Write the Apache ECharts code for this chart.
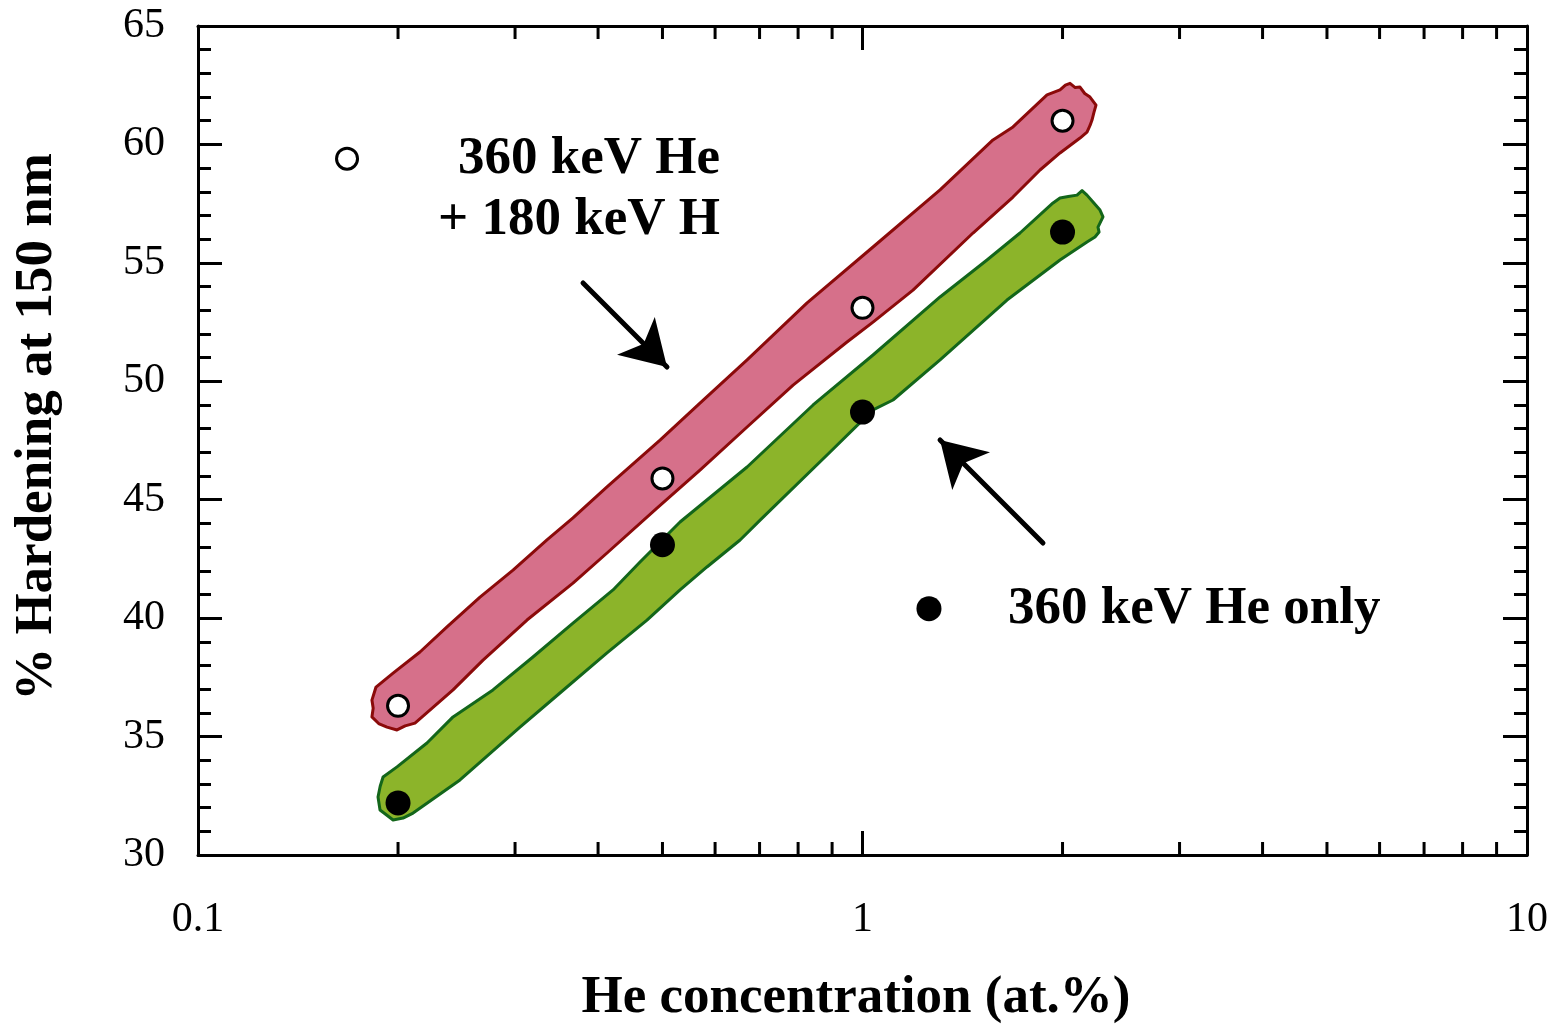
<!DOCTYPE html>
<html>
<head>
<meta charset="utf-8">
<script src="https://cdn.jsdelivr.net/npm/echarts@6/dist/echarts.min.js"></script>
<style>
html,body{margin:0;padding:0;background:#fff;}
#chart{width:1562px;height:1026px;}
</style>
</head>
<body>
<div id="chart"></div>
<script>
// ---- data ----
const heConc = [0.2, 0.5, 1, 2];
const hardeningHeH = [36.3, 45.9, 53.1, 61.0];
const hardeningHeOnly = [32.2, 43.1, 48.7, 56.3];
const legendMarkerHeH = [[0.1676, 59.4]];
const legendMarkerHeOnly = [[1.259, 40.4]];
const xMinorTicks = [0.2, 0.3, 0.4, 0.5, 0.6, 0.7, 0.8, 0.9, 2, 3, 4, 5, 6, 7, 8, 9];
const xMajorTicks = [0.1, 1, 10];
const labelHeH = ['360 keV He', '+ 180 keV H'];
const labelHeOnly = '360 keV He only';
const xTitle = 'He concentration (at.%)';
const yTitle = '% Hardening at 150 nm';

// band outlines (He concentration, % hardening)
const bandHeH = [
  [0.1853, 37.09], [0.1966, 37.68], [0.2158, 38.57], [0.2370, 39.63], [0.2657, 40.89],
  [0.2979, 42.03], [0.3351, 43.30], [0.3667, 44.23], [0.4126, 45.54], [0.4958, 47.52],
  [0.5694, 49.08], [0.6704, 50.90], [0.8253, 53.31], [1.0371, 55.67], [1.3083, 58.08],
  [1.5717, 60.19], [1.6845, 60.74], [1.8953, 62.09], [1.9826, 62.30], [2.0200, 62.50],
  [2.0525, 62.58], [2.0900, 62.40], [2.1248, 62.42], [2.1600, 62.15], [2.1997, 62.00],
  [2.2459, 61.66], [2.2300, 61.35], [2.2150, 61.03], [2.2000, 60.80], [2.1770, 60.52],
  [2.1248, 60.27], [1.9826, 59.64], [1.8499, 58.92], [1.6845, 57.78], [1.4665, 56.26],
  [1.1912, 53.85], [1.0371, 52.50], [0.9478, 51.66], [0.7862, 49.84], [0.6704, 48.07],
  [0.5694, 46.25], [0.4906, 44.65], [0.4126, 42.75], [0.3667, 41.48], [0.3127, 39.92],
  [0.2685, 38.23], [0.2420, 36.97], [0.2121, 35.57], [0.2050, 35.45], [0.1993, 35.28],
  [0.1925, 35.40], [0.1870, 35.55], [0.1827, 35.83], [0.1835, 36.20], [0.1827, 36.54]
];
const bandHeOnly = [
  [0.1899, 33.29], [0.1993, 33.72], [0.2211, 34.73], [0.2420, 35.83], [0.2779, 36.97],
  [0.3192, 38.36], [0.3667, 39.79], [0.4213, 41.19], [0.4626, 42.37], [0.5314, 44.06],
  [0.6704, 46.38], [0.8426, 49.00], [1.0371, 51.11], [1.3083, 53.56], [1.5394, 55.12],
  [1.7259, 56.26], [1.9351, 57.53], [1.9826, 57.74], [2.0400, 57.80], [2.1029, 57.86],
  [2.1400, 58.05], [2.1770, 57.86], [2.2227, 57.57], [2.2772, 57.23], [2.3010, 56.94],
  [2.2615, 56.51], [2.2700, 56.30], [2.2381, 56.09], [2.1770, 55.88], [1.9826, 55.12],
  [1.6498, 53.43], [1.3083, 50.90], [1.1115, 49.21], [1.0371, 48.79], [0.8844, 46.89],
  [0.7013, 44.14], [0.6543, 43.30], [0.5833, 42.16], [0.5314, 41.19], [0.4739, 39.92],
  [0.4126, 38.53], [0.3505, 36.84], [0.3052, 35.40], [0.2479, 33.17], [0.2107, 31.77],
  [0.2035, 31.56], [0.1966, 31.48], [0.1920, 31.70], [0.1879, 31.90], [0.1866, 32.45],
  [0.1880, 32.90]
];
// annotation arrows [tail, head]
const arrowHeH = [[0.3797, 54.15], [0.5079, 50.60]];
const arrowHeOnly = [[1.869, 43.17], [1.3083, 47.52]];

// ---- chart ----
const FONT = '"Liberation Serif", "Times New Roman", serif';
const chart = echarts.init(document.getElementById('chart'), null, {renderer: 'canvas'});

function bandSeries(points, fill, stroke) {
  return {
    type: 'custom',
    coordinateSystem: 'cartesian2d',
    xAxisIndex: 0, yAxisIndex: 0,
    silent: true,
    z: 1,
    data: [points[0]],
    renderItem: function (params, api) {
      return {
        type: 'polygon',
        shape: {points: points.map(p => api.coord(p))},
        style: {fill: fill, stroke: stroke, lineWidth: 3, lineJoin: 'round'}
      };
    }
  };
}

function arrowLine(pair) {
  return [{coord: pair[0]}, {coord: pair[1]}];
}

const option = {
  animation: false,
  backgroundColor: '#ffffff',
  grid: {left: 198, top: 26, width: 1329, height: 829, containLabel: false},
  xAxis: [
    {
      type: 'log', logBase: 10, min: 0.1, max: 10, position: 'bottom',
      axisLine: {show: true, lineStyle: {color: '#000', width: 3}},
      axisTick: {show: true, inside: true, length: 24, lineStyle: {color: '#000', width: 3}},
      axisLabel: {show: true, margin: 44, color: '#000', fontFamily: FONT, fontSize: 42,
        formatter: v => String(v)},
      splitLine: {show: false}
    },
    {
      type: 'log', logBase: 10, min: 0.1, max: 10, position: 'top',
      axisLine: {show: true, lineStyle: {color: '#000', width: 3}},
      axisTick: {show: true, inside: true, length: 24, lineStyle: {color: '#000', width: 3}},
      axisLabel: {show: false},
      splitLine: {show: false}
    }
  ],
  yAxis: [
    {
      type: 'value', min: 30, max: 65, interval: 5, position: 'left',
      axisLine: {show: true, lineStyle: {color: '#000', width: 3}},
      axisTick: {show: true, inside: true, length: 24, lineStyle: {color: '#000', width: 3}},
      minorTick: {show: true, splitNumber: 5, length: 13, lineStyle: {color: '#000', width: 3}},
      axisLabel: {show: true, margin: 33, color: '#000', fontFamily: FONT, fontSize: 42},
      splitLine: {show: false}
    },
    {
      type: 'value', min: 30, max: 65, interval: 5, position: 'right',
      axisLine: {show: true, lineStyle: {color: '#000', width: 3}},
      axisTick: {show: true, inside: true, length: 24, lineStyle: {color: '#000', width: 3}},
      minorTick: {show: true, splitNumber: 5, length: 13, lineStyle: {color: '#000', width: 3}},
      axisLabel: {show: false},
      splitLine: {show: false}
    }
  ],
  graphic: [
    {type: 'text', x: 720, y: 159, silent: true, z: 10,
      style: {text: labelHeH[0], textAlign: 'right', textVerticalAlign: 'middle', align: 'right', verticalAlign: 'middle',
        font: 'bold 53px ' + FONT, fill: '#000'}},
    {type: 'text', x: 720, y: 220, silent: true, z: 10,
      style: {text: labelHeH[1], textAlign: 'right', textVerticalAlign: 'middle', align: 'right', verticalAlign: 'middle',
        font: 'bold 53px ' + FONT, fill: '#000'}},
    {type: 'text', x: 1008, y: 609, silent: true, z: 10,
      style: {text: labelHeOnly, textAlign: 'left', textVerticalAlign: 'middle', align: 'left', verticalAlign: 'middle',
        font: 'bold 53px ' + FONT, fill: '#000'}},
    {type: 'text', x: 856, y: 998, silent: true, z: 10,
      style: {text: xTitle, textAlign: 'center', textVerticalAlign: 'middle', align: 'center', verticalAlign: 'middle',
        font: 'bold 53px ' + FONT, fill: '#000'}},
    {type: 'text', x: 37, y: 427, rotation: Math.PI / 2, silent: true, z: 10,
      style: {text: yTitle, textAlign: 'center', textVerticalAlign: 'middle', align: 'center', verticalAlign: 'middle',
        font: 'bold 53px ' + FONT, fill: '#000'}}
  ],
  series: [
    bandSeries(bandHeH, '#d6708a', '#8b0a0a'),
    bandSeries(bandHeOnly, '#8cb42a', '#13661a'),
    {
      type: 'custom',
      coordinateSystem: 'cartesian2d',
      silent: true, z: 5,
      data: xMinorTicks.map(v => [v, 30]),
      renderItem: function (params, api) {
        const b = api.coord([api.value(0), 30]);
        const t = api.coord([api.value(0), 65]);
        return {
          type: 'group',
          children: [
            {type: 'line', shape: {x1: b[0], y1: b[1], x2: b[0], y2: b[1] - 13}, style: {stroke: '#000', lineWidth: 3}},
            {type: 'line', shape: {x1: t[0], y1: t[1], x2: t[0], y2: t[1] + 13}, style: {stroke: '#000', lineWidth: 3}}
          ]
        };
      }
    },
    {
      name: '360 keV He + 180 keV H',
      type: 'scatter', z: 6, silent: true,
      symbol: 'circle', symbolSize: 21,
      itemStyle: {color: '#fff', borderColor: '#000', borderWidth: 3, opacity: 1},
      emphasis: {disabled: true},
      data: heConc.map((x, i) => [x, hardeningHeH[i]]).concat(legendMarkerHeH)
    },
    {
      name: '360 keV He only',
      type: 'scatter', z: 6, silent: true,
      symbol: 'circle', symbolSize: 25,
      itemStyle: {color: '#000', opacity: 1},
      emphasis: {disabled: true},
      data: heConc.map((x, i) => [x, hardeningHeOnly[i]]).concat(legendMarkerHeOnly),
      markLine: {
        silent: true,
        symbol: ['none', 'arrow'],
        symbolSize: [40, 44],
        label: {show: false},
        lineStyle: {color: '#000', width: 5, type: 'solid', cap: 'round', opacity: 1},
        emphasis: {disabled: true},
        data: [arrowLine(arrowHeH), arrowLine(arrowHeOnly)]
      }
    }
  ]
};
chart.setOption(option);
</script>
</body>
</html>
